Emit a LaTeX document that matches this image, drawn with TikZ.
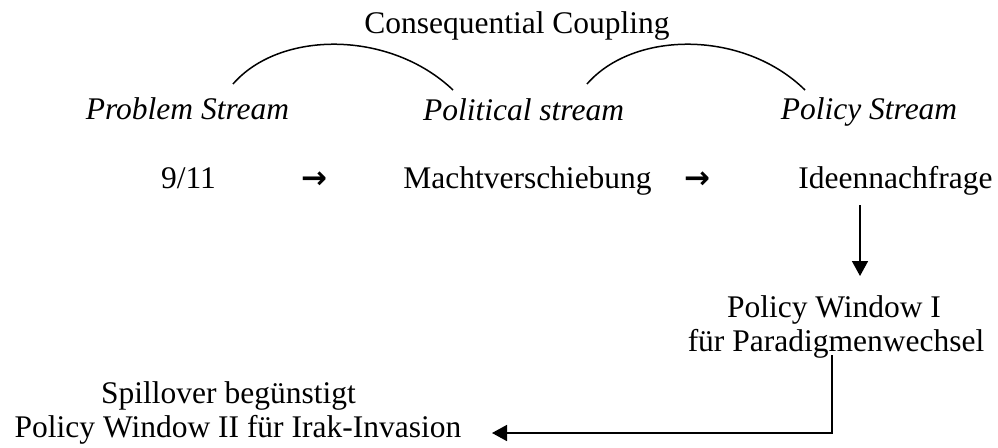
\documentclass[tikz,border=0pt]{standalone}
\usepackage{fontspec}
\setmainfont{Liberation Serif}
\newfontfamily\symfont{DejaVu Sans}
\usetikzlibrary{arrows.meta}
\begin{document}
\begin{tikzpicture}[x=1pt,y=-1pt,
  txt/.style={anchor=base,inner sep=0pt,font=\fontsize{31.5}{34}\selectfont},
  ital/.style={txt,font=\fontsize{31.5}{34}\selectfont\itshape},
  symb/.style={anchor=base,inner sep=0pt,font=\fontsize{31}{34}\symfont\bfseries},
  line/.style={line width=1.5pt},
  arr/.style={line width=1.6pt,-{Triangle[length=15pt,width=16pt]}}]
\useasboundingbox (0,0) rectangle (998,447);
% title
\node[txt] (cc) at (517,33) {Consequential Coupling};
% streams
\node[ital] (ps) at (187.5,119) {Problem Stream};
\node[ital] (pol) at (523.5,120) {Political stream};
\node[ital] (pcs) at (869,119) {Policy Stream};
% events
\node[txt] (nine) at (188.5,188) {9/11};
\node[symb] (a1) at (314.5,188) {→};
\node[txt] (macht) at (527.5,188) {Machtverschiebung};
\node[symb] (a2) at (697,188) {→};
\node[txt] (idee) at (895.5,188) {Ideennachfrage};
% window I
\node[txt] (pw1) at (834,317) {Policy Window I};
\node[txt] (para) at (836,351) {für Paradigmenwechsel};
% bottom
\node[txt] (spill) at (228.5,403) {Spillover begünstigt};
\node[txt] (pw2) at (238,437) {Policy Window II für Irak-Invasion};
% arcs
\coordinate (l1) at (233,84);
\coordinate (l2) at (453,90);
\coordinate (r1) at (587,84);
\coordinate (r2) at (805,90);
\draw[line] (l1) .. controls (280,30) and (390,30) .. (l2);
\draw[line] (r1) .. controls (634,30) and (744,30) .. (r2);
% down arrow
\coordinate (d1) at (860,205);
\coordinate (d2) at (860,276);
\draw[arr] (d1) -- (d2);
% bottom connector
\coordinate (b1) at (832,355);
\coordinate (b2) at (832,433);
\coordinate (b3) at (492,433);
\draw[arr] (b1) -- (b2) -- (b3);
\end{tikzpicture}
\end{document}
